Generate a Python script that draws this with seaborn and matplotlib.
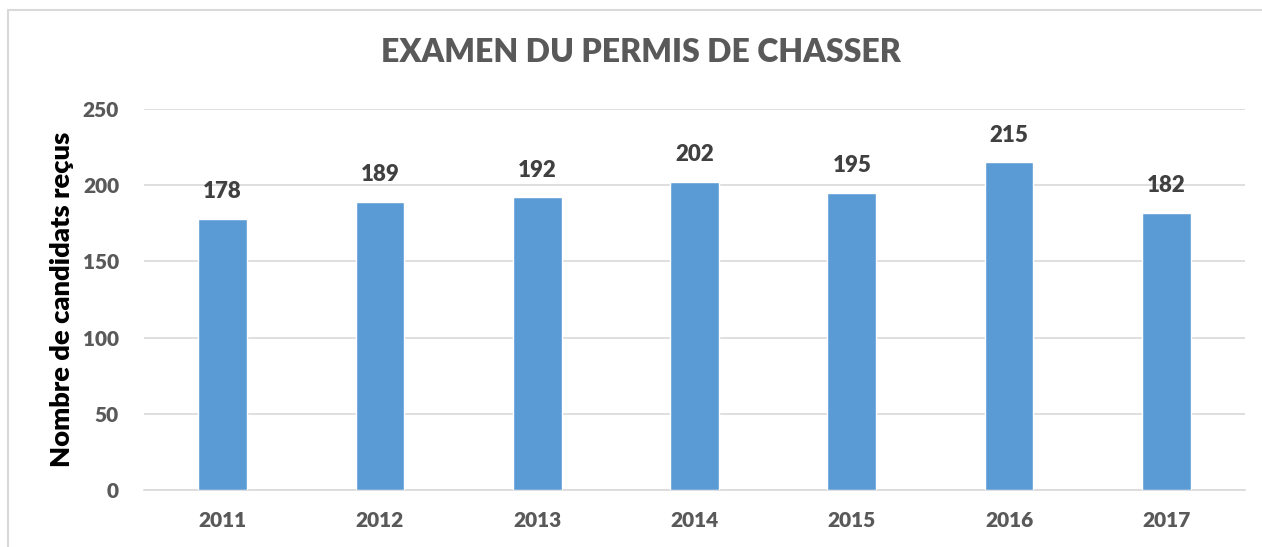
import matplotlib
matplotlib.use("Agg")
import matplotlib.pyplot as plt
import seaborn as sns
import pandas as pd
from matplotlib.patches import Rectangle

years = ["2011", "2012", "2013", "2014", "2015", "2016", "2017"]
values = [178, 189, 192, 202, 195, 215, 182]
yticks = [0, 50, 100, 150, 200, 250]

sns.set_theme(style="white")
plt.rcParams['font.family'] = ['Lato', 'DejaVu Sans']
W = 800

df = pd.DataFrame({"year": years, "value": values})

fig = plt.figure(figsize=(12.62, 5.47), dpi=100)
ax = fig.add_axes([144/1262, 1-490/547, (1245-144)/1262, (490-109)/547])

sns.barplot(data=df, x="year", y="value", color="#5B9BD5", width=0.31,
            saturation=1, ax=ax, zorder=3)

ax.set_ylim(0, 250)
ax.set_xlim(-0.5, len(years)-0.5)
ax.set_yticks(yticks)
ax.grid(axis="y", color="#D9D9D9", linewidth=1.2, zorder=0)
for s in ["top", "right", "left"]:
    ax.spines[s].set_visible(False)
ax.spines["bottom"].set_color("#D9D9D9")
ax.spines["bottom"].set_linewidth(1.2)
ax.tick_params(axis="both", length=0, colors="#595959", labelsize=15)
ax.tick_params(axis="y", pad=18)
ax.tick_params(axis="x", pad=15)
for lab in ax.get_xticklabels() + ax.get_yticklabels():
    lab.set_fontweight(W)
ax.set_xlabel("")
ax.set_ylabel("Nombre de candidats reçus", fontsize=19.7, fontweight=W,
              color="#000000", labelpad=6)

for c in ax.containers:
    ax.bar_label(c, labels=[str(v) for v in values], padding=12, fontsize=16,
                 fontweight=W, color="#404040")

fig.text(641/1262, 1-53/547, "EXAMEN DU PERMIS DE CHASSER", ha="center", va="center",
         fontsize=23, fontweight=W, color="#595959")

fig.patches.append(Rectangle((8/1262, -0.1), 1.2, 1-10/547+0.1,
                             transform=fig.transFigure, fill=False,
                             edgecolor="#D9D9D9", linewidth=1.5))

fig.savefig("out.png", dpi=100, facecolor="white")
